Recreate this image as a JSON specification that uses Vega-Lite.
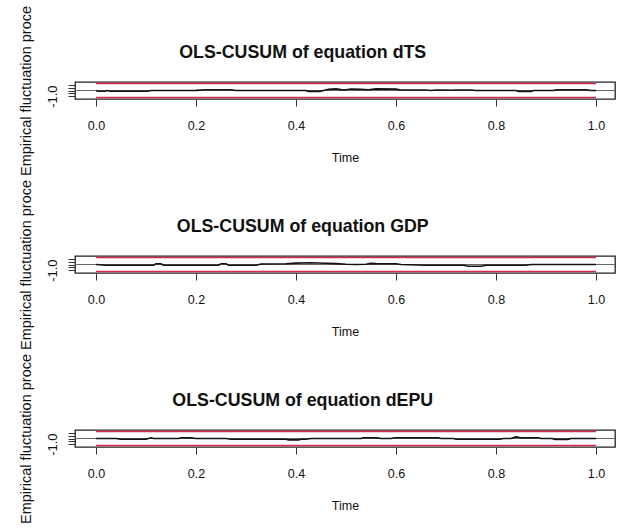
{
  "$schema": "https://vega.github.io/schema/vega-lite/v6.json",
  "background": "white",
  "padding": {"left": 17, "top": 4, "right": 0, "bottom": 0},
  "spacing": 157,
  "bounds": "flush",
  "config": {
    "font": "Liberation Sans",
    "view": {"stroke": "#222", "strokeWidth": 1.3},
    "title": {"fontSize": 17.8, "fontWeight": "bold", "color": "#111", "anchor": "middle", "frame": "bounds", "dx": -14, "dy": 82, "baseline": "alphabetic", "offset": 26},
    "axis": {"grid": false, "domain": false, "tickColor": "#333", "tickSize": 7, "labelColor": "#111", "titleColor": "#111", "titleFontWeight": "normal", "labelOverlap": false},
    "axisX": {"labelFontSize": 12.5, "labelPadding": 13, "titleFontSize": 12.5, "titlePadding": 20},
    "axisY": {"labelFontSize": 13, "labelPadding": 9, "labelAngle": 270, "labelAlign": "center", "labelBaseline": "bottom", "titleFontSize": 14.5, "titlePadding": 13}
  },
  "datasets": {
    "cusum": [
      {"eq": "dTS", "s": "upper", "t": 0, "v": 1.24}, {"eq": "dTS", "s": "upper", "t": 1, "v": 1.24},
      {"eq": "dTS", "s": "lower", "t": 0, "v": -1.24}, {"eq": "dTS", "s": "lower", "t": 1, "v": -1.24},
      {"eq": "GDP", "s": "upper", "t": 0, "v": 1.24}, {"eq": "GDP", "s": "upper", "t": 1, "v": 1.24},
      {"eq": "GDP", "s": "lower", "t": 0, "v": -1.24}, {"eq": "GDP", "s": "lower", "t": 1, "v": -1.24},
      {"eq": "dEPU", "s": "upper", "t": 0, "v": 1.24}, {"eq": "dEPU", "s": "upper", "t": 1, "v": 1.24},
      {"eq": "dEPU", "s": "lower", "t": 0, "v": -1.24}, {"eq": "dEPU", "s": "lower", "t": 1, "v": -1.24},

      {"eq": "dTS", "s": "process", "t": 0, "v": 0},
      {"eq": "dTS", "s": "process", "t": 0.004, "v": -0.12},
      {"eq": "dTS", "s": "process", "t": 0.018, "v": -0.12},
      {"eq": "dTS", "s": "process", "t": 0.022, "v": 0},
      {"eq": "dTS", "s": "process", "t": 0.028, "v": -0.12},
      {"eq": "dTS", "s": "process", "t": 0.104, "v": -0.12},
      {"eq": "dTS", "s": "process", "t": 0.11, "v": 0},
      {"eq": "dTS", "s": "process", "t": 0.2, "v": 0.02},
      {"eq": "dTS", "s": "process", "t": 0.22, "v": 0.12},
      {"eq": "dTS", "s": "process", "t": 0.27, "v": 0.12},
      {"eq": "dTS", "s": "process", "t": 0.28, "v": 0},
      {"eq": "dTS", "s": "process", "t": 0.42, "v": 0},
      {"eq": "dTS", "s": "process", "t": 0.424, "v": -0.15},
      {"eq": "dTS", "s": "process", "t": 0.448, "v": -0.15},
      {"eq": "dTS", "s": "process", "t": 0.455, "v": 0},
      {"eq": "dTS", "s": "process", "t": 0.465, "v": 0.2},
      {"eq": "dTS", "s": "process", "t": 0.48, "v": 0.28},
      {"eq": "dTS", "s": "process", "t": 0.49, "v": 0.15},
      {"eq": "dTS", "s": "process", "t": 0.5, "v": 0.12},
      {"eq": "dTS", "s": "process", "t": 0.51, "v": 0.25},
      {"eq": "dTS", "s": "process", "t": 0.53, "v": 0.2},
      {"eq": "dTS", "s": "process", "t": 0.545, "v": 0.12},
      {"eq": "dTS", "s": "process", "t": 0.56, "v": 0.28},
      {"eq": "dTS", "s": "process", "t": 0.6, "v": 0.25},
      {"eq": "dTS", "s": "process", "t": 0.61, "v": 0.1},
      {"eq": "dTS", "s": "process", "t": 0.66, "v": 0.1},
      {"eq": "dTS", "s": "process", "t": 0.67, "v": 0},
      {"eq": "dTS", "s": "process", "t": 0.68, "v": 0.1},
      {"eq": "dTS", "s": "process", "t": 0.7, "v": 0.1},
      {"eq": "dTS", "s": "process", "t": 0.71, "v": 0.05},
      {"eq": "dTS", "s": "process", "t": 0.72, "v": 0.1},
      {"eq": "dTS", "s": "process", "t": 0.75, "v": 0.1},
      {"eq": "dTS", "s": "process", "t": 0.76, "v": 0},
      {"eq": "dTS", "s": "process", "t": 0.84, "v": 0},
      {"eq": "dTS", "s": "process", "t": 0.845, "v": -0.15},
      {"eq": "dTS", "s": "process", "t": 0.87, "v": -0.15},
      {"eq": "dTS", "s": "process", "t": 0.875, "v": 0},
      {"eq": "dTS", "s": "process", "t": 0.915, "v": 0},
      {"eq": "dTS", "s": "process", "t": 0.92, "v": 0.12},
      {"eq": "dTS", "s": "process", "t": 0.98, "v": 0.12},
      {"eq": "dTS", "s": "process", "t": 0.99, "v": 0},
      {"eq": "dTS", "s": "process", "t": 1, "v": 0},

      {"eq": "GDP", "s": "process", "t": 0, "v": 0},
      {"eq": "GDP", "s": "process", "t": 0.02, "v": -0.12},
      {"eq": "GDP", "s": "process", "t": 0.115, "v": -0.12},
      {"eq": "GDP", "s": "process", "t": 0.12, "v": 0.12},
      {"eq": "GDP", "s": "process", "t": 0.13, "v": 0.12},
      {"eq": "GDP", "s": "process", "t": 0.135, "v": -0.12},
      {"eq": "GDP", "s": "process", "t": 0.245, "v": -0.12},
      {"eq": "GDP", "s": "process", "t": 0.25, "v": 0.12},
      {"eq": "GDP", "s": "process", "t": 0.26, "v": 0.12},
      {"eq": "GDP", "s": "process", "t": 0.265, "v": -0.12},
      {"eq": "GDP", "s": "process", "t": 0.32, "v": -0.12},
      {"eq": "GDP", "s": "process", "t": 0.33, "v": 0.1},
      {"eq": "GDP", "s": "process", "t": 0.38, "v": 0.12},
      {"eq": "GDP", "s": "process", "t": 0.4, "v": 0.25},
      {"eq": "GDP", "s": "process", "t": 0.43, "v": 0.3},
      {"eq": "GDP", "s": "process", "t": 0.46, "v": 0.22},
      {"eq": "GDP", "s": "process", "t": 0.48, "v": 0.15},
      {"eq": "GDP", "s": "process", "t": 0.5, "v": 0.05},
      {"eq": "GDP", "s": "process", "t": 0.52, "v": 0},
      {"eq": "GDP", "s": "process", "t": 0.54, "v": 0.05},
      {"eq": "GDP", "s": "process", "t": 0.55, "v": 0.2},
      {"eq": "GDP", "s": "process", "t": 0.56, "v": 0.15},
      {"eq": "GDP", "s": "process", "t": 0.57, "v": 0.12},
      {"eq": "GDP", "s": "process", "t": 0.6, "v": 0.12},
      {"eq": "GDP", "s": "process", "t": 0.61, "v": 0},
      {"eq": "GDP", "s": "process", "t": 0.66, "v": -0.12},
      {"eq": "GDP", "s": "process", "t": 0.735, "v": -0.12},
      {"eq": "GDP", "s": "process", "t": 0.745, "v": -0.3},
      {"eq": "GDP", "s": "process", "t": 0.77, "v": -0.3},
      {"eq": "GDP", "s": "process", "t": 0.78, "v": -0.12},
      {"eq": "GDP", "s": "process", "t": 0.86, "v": -0.12},
      {"eq": "GDP", "s": "process", "t": 0.87, "v": 0},
      {"eq": "GDP", "s": "process", "t": 1, "v": 0},

      {"eq": "dEPU", "s": "process", "t": 0, "v": 0},
      {"eq": "dEPU", "s": "process", "t": 0.04, "v": 0},
      {"eq": "dEPU", "s": "process", "t": 0.05, "v": -0.12},
      {"eq": "dEPU", "s": "process", "t": 0.1, "v": -0.12},
      {"eq": "dEPU", "s": "process", "t": 0.105, "v": 0},
      {"eq": "dEPU", "s": "process", "t": 0.11, "v": 0.12},
      {"eq": "dEPU", "s": "process", "t": 0.115, "v": 0},
      {"eq": "dEPU", "s": "process", "t": 0.165, "v": 0},
      {"eq": "dEPU", "s": "process", "t": 0.17, "v": 0.12},
      {"eq": "dEPU", "s": "process", "t": 0.19, "v": 0.12},
      {"eq": "dEPU", "s": "process", "t": 0.2, "v": 0},
      {"eq": "dEPU", "s": "process", "t": 0.26, "v": 0},
      {"eq": "dEPU", "s": "process", "t": 0.27, "v": -0.12},
      {"eq": "dEPU", "s": "process", "t": 0.38, "v": -0.12},
      {"eq": "dEPU", "s": "process", "t": 0.385, "v": -0.25},
      {"eq": "dEPU", "s": "process", "t": 0.405, "v": -0.25},
      {"eq": "dEPU", "s": "process", "t": 0.41, "v": -0.12},
      {"eq": "dEPU", "s": "process", "t": 0.42, "v": -0.12},
      {"eq": "dEPU", "s": "process", "t": 0.43, "v": 0},
      {"eq": "dEPU", "s": "process", "t": 0.53, "v": 0},
      {"eq": "dEPU", "s": "process", "t": 0.534, "v": 0.12},
      {"eq": "dEPU", "s": "process", "t": 0.562, "v": 0.12},
      {"eq": "dEPU", "s": "process", "t": 0.57, "v": 0},
      {"eq": "dEPU", "s": "process", "t": 0.59, "v": 0},
      {"eq": "dEPU", "s": "process", "t": 0.598, "v": 0.12},
      {"eq": "dEPU", "s": "process", "t": 0.684, "v": 0.12},
      {"eq": "dEPU", "s": "process", "t": 0.69, "v": 0},
      {"eq": "dEPU", "s": "process", "t": 0.715, "v": 0},
      {"eq": "dEPU", "s": "process", "t": 0.72, "v": -0.12},
      {"eq": "dEPU", "s": "process", "t": 0.808, "v": -0.12},
      {"eq": "dEPU", "s": "process", "t": 0.815, "v": 0},
      {"eq": "dEPU", "s": "process", "t": 0.83, "v": 0},
      {"eq": "dEPU", "s": "process", "t": 0.834, "v": 0.12},
      {"eq": "dEPU", "s": "process", "t": 0.84, "v": 0.28},
      {"eq": "dEPU", "s": "process", "t": 0.85, "v": 0.12},
      {"eq": "dEPU", "s": "process", "t": 0.884, "v": 0.12},
      {"eq": "dEPU", "s": "process", "t": 0.89, "v": 0},
      {"eq": "dEPU", "s": "process", "t": 0.912, "v": 0},
      {"eq": "dEPU", "s": "process", "t": 0.918, "v": -0.15},
      {"eq": "dEPU", "s": "process", "t": 0.944, "v": -0.15},
      {"eq": "dEPU", "s": "process", "t": 0.95, "v": 0},
      {"eq": "dEPU", "s": "process", "t": 1, "v": 0}
    ]
  },
  "vconcat": [
    {
      "title": "OLS-CUSUM of equation dTS",
      "width": 540, "height": 17,
      "data": {"name": "cusum"},
      "transform": [{"filter": "datum.eq == 'dTS'"}],
      "encoding": {
        "x": {"field": "t", "type": "quantitative", "title": "Time", "scale": {"domain": [-0.042, 1.038], "nice": false, "zero": false}, "axis": {"values": [0, 0.2, 0.4, 0.6, 0.8, 1], "format": ".1f"}},
        "y": {"field": "v", "type": "quantitative", "title": "Empirical fluctuation proce", "scale": {"domain": [-1.5, 1.5], "nice": false, "zero": false}, "axis": {"values": [-1, -0.5, 0, 0.5, 1], "labelExpr": "datum.value == -1 ? '-1.0' : ''"}}
      },
      "layer": [
        {"mark": {"type": "rule", "color": "#666", "strokeWidth": 1}, "encoding": {"x": null, "y": {"datum": 0, "type": "quantitative"}}},
        {"transform": [{"filter": "datum.s != 'process'"}], "mark": {"type": "line", "color": "#D42A4C", "strokeWidth": 1.6}, "encoding": {"detail": {"field": "s"}}},
        {"transform": [{"filter": "datum.s == 'process'"}], "mark": {"type": "line", "color": "#111", "strokeWidth": 1.6}, "encoding": {}}
      ]
    },
    {
      "title": "OLS-CUSUM of equation GDP",
      "width": 540, "height": 17,
      "data": {"name": "cusum"},
      "transform": [{"filter": "datum.eq == 'GDP'"}],
      "encoding": {
        "x": {"field": "t", "type": "quantitative", "title": "Time", "scale": {"domain": [-0.042, 1.038], "nice": false, "zero": false}, "axis": {"values": [0, 0.2, 0.4, 0.6, 0.8, 1], "format": ".1f"}},
        "y": {"field": "v", "type": "quantitative", "title": "Empirical fluctuation proce", "scale": {"domain": [-1.5, 1.5], "nice": false, "zero": false}, "axis": {"values": [-1, -0.5, 0, 0.5, 1], "labelExpr": "datum.value == -1 ? '-1.0' : ''"}}
      },
      "layer": [
        {"mark": {"type": "rule", "color": "#666", "strokeWidth": 1}, "encoding": {"x": null, "y": {"datum": 0, "type": "quantitative"}}},
        {"transform": [{"filter": "datum.s != 'process'"}], "mark": {"type": "line", "color": "#D42A4C", "strokeWidth": 1.6}, "encoding": {"detail": {"field": "s"}}},
        {"transform": [{"filter": "datum.s == 'process'"}], "mark": {"type": "line", "color": "#111", "strokeWidth": 1.6}, "encoding": {}}
      ]
    },
    {
      "title": "OLS-CUSUM of equation dEPU",
      "width": 540, "height": 17,
      "data": {"name": "cusum"},
      "transform": [{"filter": "datum.eq == 'dEPU'"}],
      "encoding": {
        "x": {"field": "t", "type": "quantitative", "title": "Time", "scale": {"domain": [-0.042, 1.038], "nice": false, "zero": false}, "axis": {"values": [0, 0.2, 0.4, 0.6, 0.8, 1], "format": ".1f"}},
        "y": {"field": "v", "type": "quantitative", "title": "Empirical fluctuation proce", "scale": {"domain": [-1.5, 1.5], "nice": false, "zero": false}, "axis": {"values": [-1, -0.5, 0, 0.5, 1], "labelExpr": "datum.value == -1 ? '-1.0' : ''"}}
      },
      "layer": [
        {"mark": {"type": "rule", "color": "#666", "strokeWidth": 1}, "encoding": {"x": null, "y": {"datum": 0, "type": "quantitative"}}},
        {"transform": [{"filter": "datum.s != 'process'"}], "mark": {"type": "line", "color": "#D42A4C", "strokeWidth": 1.6}, "encoding": {"detail": {"field": "s"}}},
        {"transform": [{"filter": "datum.s == 'process'"}], "mark": {"type": "line", "color": "#111", "strokeWidth": 1.6}, "encoding": {}}
      ]
    }
  ]
}
